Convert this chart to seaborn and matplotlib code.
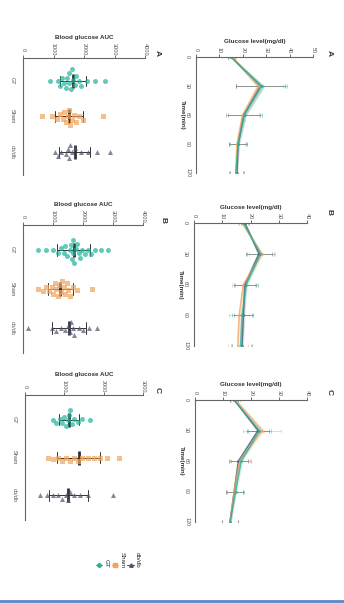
import numpy as np
import pandas as pd
import seaborn as sns
import matplotlib.pyplot as plt
from matplotlib.lines import Line2D

groups = ["GT", "Sham", "db/db"]
palette = {"GT": "#22b39b", "Sham": "#f0a45c", "db/db": "#4d5470"}
markers = {"GT": "o", "Sham": "s", "db/db": "^"}
time_min = [0, 30, 60, 90, 120]

# glucose curves (mean, sd) per panel
glu_a = {"GT": [15, 28, 20.5, 18, 17], "Sham": [15.5, 27, 20, 17.5, 17], "db/db": [15, 27.5, 20.5, 18, 17.5]}
sd_a = {"GT": [1.5, 11, 7.5, 3.5, 3], "Sham": [1.5, 10, 7, 3.5, 3], "db/db": [1.5, 10.5, 7, 3.8, 3]}
glu_b = {"GT": [17.5, 23.5, 18.5, 17, 16.5], "Sham": [17, 24, 17.5, 16, 15.5], "db/db": [18, 23, 18, 17.5, 17]}
sd_b = {"GT": [1.5, 4.7, 4, 3.5, 3.5], "Sham": [1.5, 4.5, 4, 3.5, 3.5], "db/db": [1.5, 4.5, 3.8, 3.5, 3.5]}
glu_c = {"GT": [14, 23, 16.5, 14.5, 12.5], "Sham": [14.5, 24, 16, 14, 12.5], "db/db": [14, 22.5, 15.5, 14, 12.5]}
sd_c = {"GT": [1.5, 4, 3.6, 3, 3], "Sham": [1.5, 6.8, 3.6, 3, 3], "db/db": [1.5, 4, 3.5, 3, 3]}

# AUC individual values
auc_a = {
    "GT": [890, 1150, 1200, 1280, 1350, 1400, 1450, 1500, 1520, 1560, 1600, 1650, 1700, 1750, 1820, 1900, 2100, 2360, 2690],
    "Sham": [620, 950, 1100, 1200, 1300, 1350, 1420, 1480, 1500, 1550, 1600, 1680, 1750, 1850, 1970, 2620],
    "db/db": [1050, 1150, 1250, 1400, 1480, 1500, 1550, 1620, 1700, 1900, 2130, 2420, 2850],
}
auc_b = {
    "GT": [500, 750, 1000, 1150, 1250, 1350, 1400, 1480, 1550, 1600, 1620, 1650, 1680, 1700, 1750, 1800, 1850,
           1900, 1980, 2050, 2150, 2250, 2400, 2600, 2830],
    "Sham": [500, 650, 750, 850, 950, 1000, 1050, 1100, 1150, 1200, 1250, 1300, 1350, 1400, 1450, 1500, 1550,
             1650, 1800, 2300],
    "db/db": [170, 970, 1100, 1250, 1400, 1500, 1550, 1600, 1650, 1700, 1850, 2000, 2200, 2470],
}
auc_c = {
    "GT": [700, 800, 880, 950, 1000, 1050, 1100, 1120, 1150, 1200, 1250, 1350, 1450, 1650],
    "Sham": [580, 700, 850, 950, 1050, 1150, 1250, 1350, 1450, 1600, 1750, 1900, 2080, 2400],
    "db/db": [380, 550, 700, 850, 950, 1050, 1100, 1150, 1250, 1400, 1600, 2230],
}

sns.set_style("white")
plt.rcParams["font.family"] = ["Liberation Sans", "DejaVu Sans"]
plt.rcParams["axes.linewidth"] = 0.8

W, H = 344, 603
fig = plt.figure(figsize=(W / 100, H / 100), dpi=100)


def px(l, t, r, b):
    return [l / W, 1 - b / H, (r - l) / W, (b - t) / H]


def style(ax):
    sns.despine(ax=ax, top=False, right=True, bottom=True, left=False)
    ax.xaxis.tick_top()
    ax.xaxis.set_label_position("top")
    ax.tick_params(axis="both", labelsize=4, length=2, width=0.6, pad=1, colors="#555")
    for lab in ax.get_xticklabels() + ax.get_yticklabels():
        lab.set_rotation(270)
        lab.set_va("center")
        lab.set_ha("center")
    for s in ax.spines.values():
        s.set_color("#666")


def dot_panel(rect, auc, xmax, step):
    ax = fig.add_axes(px(*rect))
    df = pd.DataFrame([(g, v) for g in groups for v in auc[g]], columns=["group", "auc"])
    for g in groups:
        sns.swarmplot(data=df[df.group == g], x="auc", y="group", order=groups, orient="h",
                      color=palette[g], marker=markers[g], size=3.6, ax=ax, alpha=0.7,
                      warn_thresh=1)
    sns.pointplot(data=df, x="auc", y="group", order=groups, orient="h", errorbar="sd",
                  capsize=0.3, color="#333", marker="|", markersize=10, linestyle="none",
                  err_kws={"linewidth": 0.7}, ax=ax)
    ax.set_xlim(0, xmax)
    ax.set_xticks(np.arange(0, xmax + 1, step))
    ax.set_ylim(2.65, -0.65)
    ax.set_ylabel("")
    ax.set_xlabel("Blood glucose AUC", fontsize=4.5, fontweight="bold", labelpad=3, color="#333")
    style(ax)
    ax.tick_params(axis="x", pad=4)
    ax.tick_params(axis="y", pad=6)
    return ax


def line_panel(rect, glu, sd, xmax):
    ax = fig.add_axes(px(*rect))
    df = pd.DataFrame([(g, t, m) for g in groups for t, m in zip(time_min, glu[g])],
                      columns=["group", "time", "glucose"])
    for g in groups:
        ax.errorbar(glu[g], time_min, xerr=sd[g], fmt="none", ecolor=palette[g], elinewidth=0.5,
                    capsize=1.5, capthick=0.5, alpha=0.6)
        lo = np.array(glu[g]) - np.array(sd[g]) * 0.15
        hi = np.array(glu[g]) + np.array(sd[g]) * 0.15
        ax.fill_betweenx(time_min, lo, hi, color=palette[g], alpha=0.18, linewidth=0)
    sns.lineplot(data=df, x="glucose", y="time", hue="group", hue_order=groups[::-1], palette=palette,
                 orient="y", errorbar=None, marker="o", markersize=2, markeredgewidth=0,
                 linewidth=1.1, alpha=0.75, legend=False, ax=ax)
    ax.set_xlim(0, xmax)
    ax.set_xticks(np.arange(0, xmax + 1, 10))
    ax.set_ylim(120, 0)
    ax.set_yticks(time_min)
    ax.set_ylabel("Time(min)", fontsize=4.5, fontweight="bold", rotation=270, labelpad=4, color="#333")
    ax.set_xlabel("Glucose level(mg/dl)", fontsize=4.5, fontweight="bold", labelpad=3, color="#333")
    style(ax)
    ax.tick_params(axis="x", pad=3)
    ax.tick_params(axis="y", pad=4)
    return ax


dot_panel((23, 58, 145, 175), auc_a, 4000, 1000)
line_panel((196, 57, 313, 173), glu_a, sd_a, 50)
dot_panel((23, 225, 143, 353), auc_b, 4000, 1000)
line_panel((194, 223, 307, 346), glu_b, sd_b, 40)
dot_panel((25, 395, 143, 520), auc_c, 3000, 1000)
line_panel((195, 400, 307, 522), glu_c, sd_c, 40)

for x, y, s in [(157, 53, "A"), (329, 53, "A"), (163, 220, "B"), (329, 212, "B"),
                (157, 390, "C"), (329, 392, "C")]:
    fig.text(x / W, 1 - y / H, s, rotation=270, fontsize=6, fontweight="bold",
             ha="center", va="center", color="#333")

handles = [Line2D([], [], color=palette[g], marker=markers[g], markersize=2.5, linewidth=0.8)
           for g in groups]
leg = fig.legend(handles, groups, loc="center", bbox_to_anchor=(118 / W, 1 - 560 / H), ncol=3,
                 fontsize=4.5, frameon=False, handlelength=1.0, columnspacing=0.5, handletextpad=0.2)
for t in leg.get_texts():
    t.set_rotation(270)

fig.add_artist(Line2D([0, 1], [0.004, 0.004], transform=fig.transFigure, color="#5a86c8", linewidth=2))

fig.savefig("out.png", dpi=100)
